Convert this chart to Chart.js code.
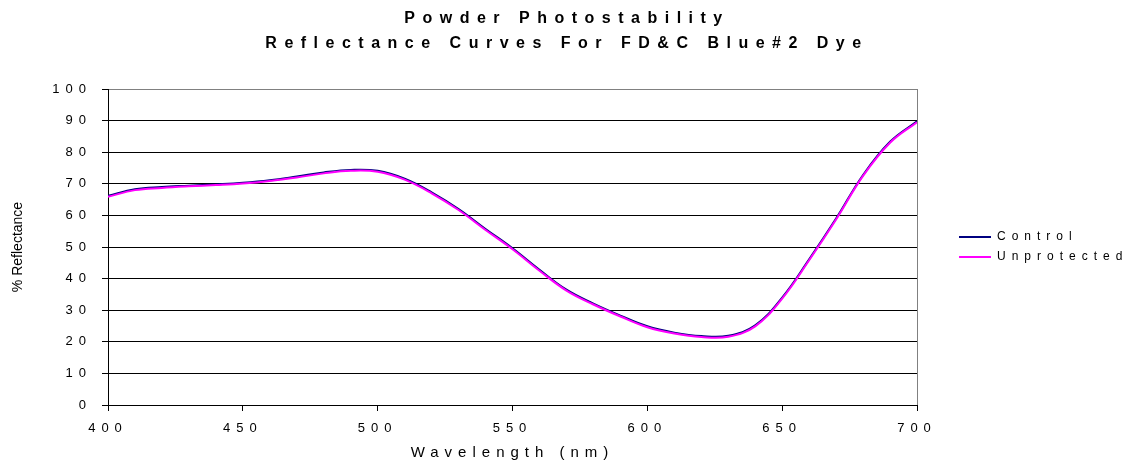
<!DOCTYPE html>
<html>
<head>
<meta charset="utf-8">
<script src="https://cdn.jsdelivr.net/npm/chart.js@4"></script>
<style>
  html, body { margin: 0; padding: 0; background: #fff; }
  #wrap { width: 1124px; height: 461px; }
</style>
</head>
<body>
<div id="wrap"><canvas id="reflChart"></canvas></div>
<script>
// Данные графика
const wavelengths = [400, 410, 420, 430, 440, 450, 460, 470, 480, 490, 500, 510, 520, 530, 540, 550,
                     560, 570, 580, 590, 600, 610, 620, 630, 640, 650, 660, 670, 680, 690, 700];
const control = [66.2, 68.3, 69.0, 69.4, 69.8, 70.3, 71.1, 72.3, 73.6, 74.4, 74.1, 71.6, 67.3, 62.0, 55.7, 49.6,
                 42.8, 36.5, 32.1, 28.3, 24.9, 22.9, 21.8, 21.9, 25.2, 34.0, 46.1, 59.0, 72.8, 83.3, 89.8];
const unprotected = [65.9, 68.0, 68.7, 69.2, 69.6, 70.1, 70.9, 72.0, 73.3, 74.1, 73.8, 71.3, 67.0, 61.7, 55.4, 49.3,
                     42.5, 36.2, 31.8, 28.0, 24.6, 22.6, 21.5, 21.6, 24.9, 33.7, 45.8, 58.7, 72.5, 83.0, 89.5];
const seriesNames = ['Control', 'Unprotected'];
const seriesColors = ['#000080', '#ff00ff'];
const xTicks = [400, 450, 500, 550, 600, 650, 700];
const yTicks = [0, 10, 20, 30, 40, 50, 60, 70, 80, 90, 100];

const FONT = "'Liberation Sans', Arial, sans-serif";
const SPACING = '6px';        // разрядка подписей
const TITLE_SPACING = '7.5px'; // разрядка заголовка

function toPoints(values) {
    return wavelengths.map((w, i) => ({ x: w, y: values[i] }));
}

// Подменяем метод рисования, чтобы временно поменять разрядку
function withSpacing(obj, fnName, spacing) {
    if (!obj || obj._spacingPatched) return;
    const fn = obj[fnName];
    obj[fnName] = function() {
        const ctx = this.ctx;
        const prev = ctx.letterSpacing;
        ctx.letterSpacing = spacing;
        fn.apply(this, arguments);
        ctx.letterSpacing = prev;
    };
    obj._spacingPatched = true;
}

const spacingPlugin = {
    id: 'spacing',
    beforeLayout(chart) { chart.ctx.letterSpacing = SPACING; },
    beforeDraw(chart) { chart.ctx.letterSpacing = SPACING; },
    afterLayout(chart) {
        withSpacing(chart.scales.y, 'drawTitle', '0px');
        withSpacing(chart.titleBlock, 'draw', TITLE_SPACING);
    }
};

const ctx = document.getElementById('reflChart').getContext('2d');
const reflChart = new Chart(ctx, {
    type: 'line',
    data: {
        datasets: [
            {
                label: seriesNames[0],
                data: toPoints(control),
                borderColor: seriesColors[0],
                backgroundColor: seriesColors[0],
                borderWidth: 2,
                pointRadius: 0,
                tension: 0.4,
                order: 2
            },
            {
                label: seriesNames[1],
                data: toPoints(unprotected),
                borderColor: seriesColors[1],
                backgroundColor: seriesColors[1],
                borderWidth: 2,
                pointRadius: 0,
                tension: 0.4,
                order: 1
            }
        ]
    },
    options: {
        responsive: true,
        maintainAspectRatio: false,
        animation: false,
        layout: { padding: { top: 6, right: 0, bottom: -1, left: 10 } },
        plugins: {
            title: {
                display: true,
                text: ['Powder Photostability', 'Reflectance Curves For FD&C Blue#2 Dye'],
                color: '#000',
                font: { family: FONT, size: 16, weight: 'bold', lineHeight: 1.5625 },
                padding: { top: 0, bottom: 33 }
            },
            legend: {
                position: 'right',
                fullSize: false,
                maxWidth: 173,
                labels: {
                    color: '#000',
                    font: { family: FONT, size: 12 },
                    usePointStyle: true,
                    pointStyle: 'line',
                    pointStyleWidth: 32,
                    boxHeight: 12,
                    padding: 8,
                    sort: (a, b) => a.datasetIndex - b.datasetIndex
                }
            },
            tooltip: { enabled: false }
        },
        scales: {
            x: {
                type: 'linear',
                min: 400,
                max: 700,
                afterBuildTicks: axis => { axis.ticks = xTicks.map(v => ({ value: v })); },
                ticks: {
                    color: '#000',
                    font: { family: FONT, size: 13, lineHeight: 1 },
                    padding: 11,
                    maxRotation: 0
                },
                grid: {
                    color: c => (c.tick && c.tick.value === 700) ? '#808080' : 'rgba(0,0,0,0)',
                    tickColor: '#000',
                    tickLength: 6,
                    lineWidth: 1
                },
                border: { color: '#000', width: 1 },
                title: {
                    display: true,
                    text: 'Wavelength (nm)',
                    color: '#000',
                    font: { family: FONT, size: 15 },
                    padding: { top: -2, bottom: 0 }
                }
            },
            y: {
                min: 0,
                max: 100,
                afterBuildTicks: axis => { axis.ticks = yTicks.map(v => ({ value: v })); },
                afterFit: axis => { axis.width = 98; },
                ticks: {
                    color: '#000',
                    font: { family: FONT, size: 13 },
                    padding: 10
                },
                grid: {
                    color: c => (c.tick && c.tick.value === 100) ? '#808080' : '#000',
                    tickColor: '#000',
                    tickLength: 6,
                    lineWidth: 1
                },
                border: { color: '#000', width: 1 },
                title: {
                    display: true,
                    text: '% Reflectance',
                    color: '#000',
                    font: { family: FONT, size: 14 },
                    padding: { top: 0, bottom: 0 }
                }
            },
            // пустая ось справа — отступ между графиком и легендой
            gap: {
                type: 'linear',
                position: 'right',
                display: true,
                grid: { display: false },
                ticks: { display: false },
                border: { display: false },
                afterFit: axis => { axis.width = 34; }
            }
        }
    },
    plugins: [spacingPlugin]
});
</script>
</body>
</html>
